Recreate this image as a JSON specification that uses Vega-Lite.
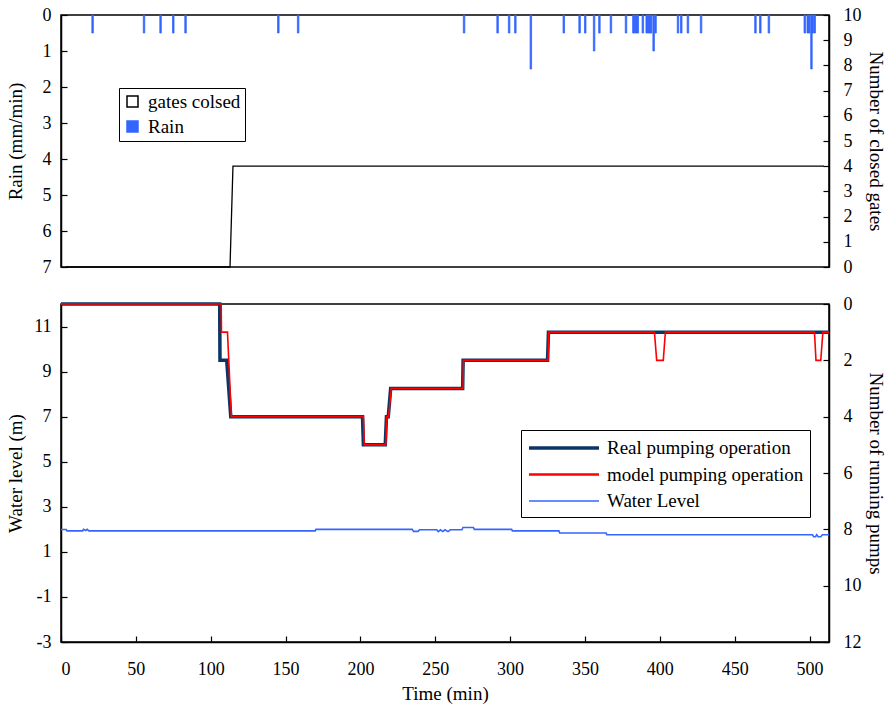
{
  "$schema": "https://vega.github.io/schema/vega-lite/v6.json",
  "padding": {"left": 5, "top": 5, "right": 1, "bottom": 0},
  "background": "white",
  "config": {
    "font": "Liberation Serif, Times New Roman, serif",
    "view": {"stroke": "black", "strokeWidth": 1.5},
    "axis": {"domainColor": "black", "domainWidth": 1.5, "tickColor": "black", "tickWidth": 1.2, "tickSize": -6, "labelPadding": 16, "labelFontSize": 18, "labelColor": "black", "titleFontSize": 19, "titleFontWeight": "normal", "titleColor": "black", "grid": false, "labelFont": "Liberation Serif, Times New Roman, serif", "titleFont": "Liberation Serif, Times New Roman, serif", "labelExpr": "'' + datum.value"},
    "legend": {"labelFont": "Liberation Serif, Times New Roman, serif", "labelFontSize": 19, "labelColor": "black", "labelLimit": 500}
  },
  "spacing": 17,
  "resolve": {
    "scale": {"color": "independent", "fill": "independent", "stroke": "independent", "strokeWidth": "independent"},
    "legend": {"color": "independent", "fill": "independent", "stroke": "independent", "strokeWidth": "independent"}
  },
  "vconcat": [
    {
      "width": 768,
      "height": 252,
      "layer": [
        {
          "data": {"values": [
            {"s": "Rain", "t": 18, "rain": 0.5}, {"s": "Rain", "t": 52.8, "rain": 0.5}, {"s": "Rain", "t": 64, "rain": 0.5}, {"s": "Rain", "t": 72.6, "rain": 0.5}, {"s": "Rain", "t": 80.9, "rain": 0.5},
            {"s": "Rain", "t": 143.7, "rain": 0.5}, {"s": "Rain", "t": 157.1, "rain": 0.5}, {"s": "Rain", "t": 269.4, "rain": 0.5}, {"s": "Rain", "t": 292.1, "rain": 0.5}, {"s": "Rain", "t": 299.9, "rain": 0.5},
            {"s": "Rain", "t": 304.1, "rain": 0.5}, {"s": "Rain", "t": 314.6, "rain": 1.5}, {"s": "Rain", "t": 336.9, "rain": 0.5}, {"s": "Rain", "t": 347.6, "rain": 0.5}, {"s": "Rain", "t": 351.4, "rain": 0.5},
            {"s": "Rain", "t": 357.4, "rain": 1.0}, {"s": "Rain", "t": 361, "rain": 0.5}, {"s": "Rain", "t": 368.8, "rain": 0.5}, {"s": "Rain", "t": 379, "rain": 0.5},
            {"s": "Rain", "t": 384, "rain": 0.5}, {"s": "Rain", "t": 385, "rain": 0.5}, {"s": "Rain", "t": 386, "rain": 0.5}, {"s": "Rain", "t": 387, "rain": 0.5},
            {"s": "Rain", "t": 390.4, "rain": 0.5}, {"s": "Rain", "t": 393, "rain": 0.5}, {"s": "Rain", "t": 394, "rain": 0.5}, {"s": "Rain", "t": 395, "rain": 0.5}, {"s": "Rain", "t": 396, "rain": 0.5},
            {"s": "Rain", "t": 397.7, "rain": 1.0}, {"s": "Rain", "t": 399, "rain": 0.5}, {"s": "Rain", "t": 414.2, "rain": 0.5}, {"s": "Rain", "t": 416.4, "rain": 0.5}, {"s": "Rain", "t": 420.9, "rain": 0.5},
            {"s": "Rain", "t": 429.8, "rain": 0.5}, {"s": "Rain", "t": 466.6, "rain": 0.5}, {"s": "Rain", "t": 469.9, "rain": 0.5}, {"s": "Rain", "t": 475.7, "rain": 0.5},
            {"s": "Rain", "t": 500, "rain": 0.5}, {"s": "Rain", "t": 502, "rain": 0.5}, {"s": "Rain", "t": 503, "rain": 0.5}, {"s": "Rain", "t": 504.5, "rain": 1.5}, {"s": "Rain", "t": 505.3, "rain": 0.5}, {"s": "Rain", "t": 506.7, "rain": 0.5}
          ]},
          "mark": {"type": "bar", "size": 1.5, "strokeWidth": 0.8},
          "encoding": {
            "x": {"field": "t", "type": "quantitative", "scale": {"domain": [0, 513], "nice": false}, "axis": null},
            "y": {"field": "rain", "type": "quantitative", "scale": {"domain": [0, 7], "reverse": true, "nice": false},
                  "axis": {"orient": "left", "title": "Rain (mm/min)", "values": [0, 1, 2, 3, 4, 5, 6, 7], "titlePadding": 17}},
            "fill": {"field": "s", "type": "nominal",
                     "scale": {"domain": ["gates colsed", "Rain"], "range": ["white", "#3366ff"]},
                     "legend": {"title": null, "orient": "none", "legendX": 58, "legendY": 73, "symbolType": "square", "symbolSize": 121, "symbolStrokeWidth": 1.5,
                                "strokeColor": "black", "fillColor": "white", "padding": 4, "rowPadding": 5, "labelOffset": 6}},
            "stroke": {"field": "s", "type": "nominal",
                       "scale": {"domain": ["gates colsed", "Rain"], "range": ["black", "#3366ff"]},
                       "legend": {"title": null, "orient": "none", "legendX": 58, "legendY": 73, "symbolType": "square", "symbolSize": 121, "symbolStrokeWidth": 1.5,
                                  "strokeColor": "black", "fillColor": "white", "padding": 4, "rowPadding": 5, "labelOffset": 6}}
          }
        },
        {
          "data": {"values": [
            {"s": "gates colsed", "t": 0, "gates": 0}, {"s": "gates colsed", "t": 111, "gates": 0}, {"s": "gates colsed", "t": 113, "gates": 4}, {"s": "gates colsed", "t": 513, "gates": 4}
          ]},
          "mark": {"type": "line", "strokeWidth": 1.3},
          "encoding": {
            "x": {"field": "t", "type": "quantitative", "scale": {"domain": [0, 513], "nice": false}, "axis": null},
            "y": {"field": "gates", "type": "quantitative", "scale": {"domain": [0, 10], "nice": false},
                  "axis": {"orient": "right", "title": "Number of closed gates", "values": [0, 1, 2, 3, 4, 5, 6, 7, 8, 9, 10], "labelPadding": 20, "titlePadding": 4}},
            "stroke": {"field": "s", "type": "nominal"}
          }
        }
      ],
      "resolve": {"scale": {"y": "independent"}}
    },
    {
      "width": 768,
      "height": 338,
      "layer": [
        {
          "data": {"values": [
            {"series": "Water Level", "t": 0, "v": 1.99}, {"series": "Water Level", "t": 3.5, "v": 1.99}, {"series": "Water Level", "t": 4, "v": 1.93}, {"series": "Water Level", "t": 14.5, "v": 1.93}, {"series": "Water Level", "t": 15, "v": 2.0},
            {"series": "Water Level", "t": 16.5, "v": 1.95}, {"series": "Water Level", "t": 17.5, "v": 2.0}, {"series": "Water Level", "t": 18.6, "v": 1.93}, {"series": "Water Level", "t": 169.8, "v": 1.93}, {"series": "Water Level", "t": 170.3, "v": 2.0},
            {"series": "Water Level", "t": 234.6, "v": 2.0}, {"series": "Water Level", "t": 235.5, "v": 1.91}, {"series": "Water Level", "t": 238.5, "v": 1.91}, {"series": "Water Level", "t": 239.5, "v": 1.98}, {"series": "Water Level", "t": 251, "v": 1.98},
            {"series": "Water Level", "t": 252, "v": 1.9}, {"series": "Water Level", "t": 253.5, "v": 1.98}, {"series": "Water Level", "t": 255, "v": 1.9}, {"series": "Water Level", "t": 256.5, "v": 1.98}, {"series": "Water Level", "t": 258.5, "v": 1.9},
            {"series": "Water Level", "t": 260, "v": 1.98}, {"series": "Water Level", "t": 267.8, "v": 1.98}, {"series": "Water Level", "t": 268.5, "v": 2.08}, {"series": "Water Level", "t": 275.5, "v": 2.08}, {"series": "Water Level", "t": 276.1, "v": 2.0},
            {"series": "Water Level", "t": 301, "v": 2.0}, {"series": "Water Level", "t": 301.5, "v": 1.93}, {"series": "Water Level", "t": 332.6, "v": 1.93}, {"series": "Water Level", "t": 333.1, "v": 1.84}, {"series": "Water Level", "t": 364.1, "v": 1.84},
            {"series": "Water Level", "t": 364.6, "v": 1.76}, {"series": "Water Level", "t": 501.9, "v": 1.76}, {"series": "Water Level", "t": 502.8, "v": 1.67}, {"series": "Water Level", "t": 504, "v": 1.67}, {"series": "Water Level", "t": 504.8, "v": 1.76},
            {"series": "Water Level", "t": 505.8, "v": 1.67}, {"series": "Water Level", "t": 507.5, "v": 1.67}, {"series": "Water Level", "t": 508.6, "v": 1.76}, {"series": "Water Level", "t": 513, "v": 1.76}
          ]},
          "mark": {"type": "line"},
          "encoding": {
            "x": {"field": "t", "type": "quantitative", "scale": {"domain": [0, 513], "nice": false},
                  "axis": {"title": "Time (min)", "values": [0, 50, 100, 150, 200, 250, 300, 350, 400, 450, 500], "labelPadding": 24, "titlePadding": 6}},
            "y": {"field": "v", "type": "quantitative", "scale": {"domain": [-3, 12], "nice": false},
                  "axis": {"orient": "left", "title": "Water level (m)", "values": [-3, -1, 1, 3, 5, 7, 9, 11], "titlePadding": 8}},
            "color": {"field": "series", "type": "nominal",
                      "scale": {"domain": ["Real pumping operation", "model pumping operation", "Water Level"], "range": ["#0b3566", "#ff0000", "#3366ff"]},
                      "legend": {"title": null, "orient": "none", "legendX": 460, "legendY": 126, "symbolType": "M-3.5,0H3.5", "symbolSize": 400, "symbolOffset": 25,
                                 "strokeColor": "black", "fillColor": "white", "padding": 6, "rowPadding": 5, "labelOffset": 31}},
            "strokeWidth": {"field": "series", "type": "nominal",
                            "scale": {"domain": ["Real pumping operation", "model pumping operation", "Water Level"], "range": [3.5, 1.6]},
                            "legend": {"title": null, "orient": "none", "legendX": 460, "legendY": 126, "symbolType": "M-3.5,0H3.5", "symbolSize": 400, "symbolOffset": 25,
                                       "strokeColor": "black", "fillColor": "white", "padding": 6, "rowPadding": 5, "labelOffset": 31}}
          }
        },
        {
          "data": {"values": [
            {"series": "Real pumping operation", "t": 0, "pumps": 0}, {"series": "Real pumping operation", "t": 106, "pumps": 0},
            {"series": "Real pumping operation", "t": 106.2, "pumps": 2}, {"series": "Real pumping operation", "t": 110.7, "pumps": 2},
            {"series": "Real pumping operation", "t": 113.4, "pumps": 4}, {"series": "Real pumping operation", "t": 201.4, "pumps": 4},
            {"series": "Real pumping operation", "t": 202, "pumps": 5}, {"series": "Real pumping operation", "t": 216.6, "pumps": 5},
            {"series": "Real pumping operation", "t": 217.4, "pumps": 4}, {"series": "Real pumping operation", "t": 218.6, "pumps": 4},
            {"series": "Real pumping operation", "t": 220.2, "pumps": 3}, {"series": "Real pumping operation", "t": 268.3, "pumps": 3},
            {"series": "Real pumping operation", "t": 268.6, "pumps": 2}, {"series": "Real pumping operation", "t": 325, "pumps": 2},
            {"series": "Real pumping operation", "t": 325.6, "pumps": 1}, {"series": "Real pumping operation", "t": 513, "pumps": 1}
          ]},
          "mark": {"type": "line", "strokeWidth": 3.5},
          "encoding": {
            "x": {"field": "t", "type": "quantitative", "scale": {"domain": [0, 513], "nice": false}},
            "y": {"field": "pumps", "type": "quantitative", "scale": {"domain": [0, 12], "reverse": true, "nice": false},
                  "axis": {"orient": "right", "title": "Number of running pumps", "values": [0, 2, 4, 6, 8, 10, 12], "labelPadding": 20, "titlePadding": 4}},
            "color": {"field": "series", "type": "nominal"}
          }
        },
        {
          "data": {"values": [
            {"series": "model pumping operation", "t": 0, "pumps": 0}, {"series": "model pumping operation", "t": 107, "pumps": 0},
            {"series": "model pumping operation", "t": 107.2, "pumps": 1}, {"series": "model pumping operation", "t": 111.2, "pumps": 1},
            {"series": "model pumping operation", "t": 113.8, "pumps": 4}, {"series": "model pumping operation", "t": 202, "pumps": 4},
            {"series": "model pumping operation", "t": 202.6, "pumps": 5}, {"series": "model pumping operation", "t": 217, "pumps": 5},
            {"series": "model pumping operation", "t": 217.6, "pumps": 4}, {"series": "model pumping operation", "t": 218.8, "pumps": 4},
            {"series": "model pumping operation", "t": 220.6, "pumps": 3}, {"series": "model pumping operation", "t": 268.5, "pumps": 3},
            {"series": "model pumping operation", "t": 268.8, "pumps": 2}, {"series": "model pumping operation", "t": 325.3, "pumps": 2},
            {"series": "model pumping operation", "t": 325.8, "pumps": 1}, {"series": "model pumping operation", "t": 396.4, "pumps": 1},
            {"series": "model pumping operation", "t": 397.9, "pumps": 2}, {"series": "model pumping operation", "t": 402.3, "pumps": 2},
            {"series": "model pumping operation", "t": 403.7, "pumps": 1}, {"series": "model pumping operation", "t": 503.3, "pumps": 1},
            {"series": "model pumping operation", "t": 504.3, "pumps": 2}, {"series": "model pumping operation", "t": 507.5, "pumps": 2},
            {"series": "model pumping operation", "t": 508.9, "pumps": 1}, {"series": "model pumping operation", "t": 513, "pumps": 1}
          ]},
          "mark": {"type": "line", "strokeWidth": 1.6},
          "encoding": {
            "x": {"field": "t", "type": "quantitative", "scale": {"domain": [0, 513], "nice": false}},
            "y": {"field": "pumps", "type": "quantitative", "scale": {"domain": [0, 12], "reverse": true, "nice": false}, "axis": null},
            "color": {"field": "series", "type": "nominal"}
          }
        }
      ],
      "resolve": {"scale": {"y": "independent"}}
    }
  ]
}
